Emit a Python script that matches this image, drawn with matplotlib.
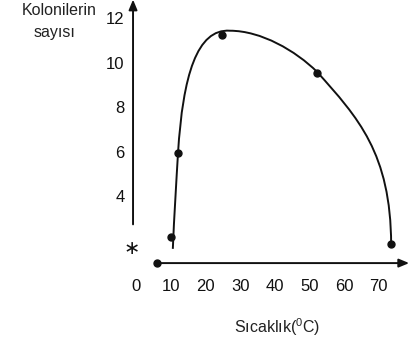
import numpy as np
import matplotlib
matplotlib.use('Agg')
import matplotlib.pyplot as plt
from matplotlib.path import Path
from matplotlib.patches import PathPatch

plt.rcParams['font.family'] = ['Liberation Sans', 'DejaVu Sans']
plt.rcParams['mathtext.fontset'] = 'custom'
plt.rcParams['mathtext.rm'] = 'Liberation Sans'

# measured points (temperature, colony count)
temp_pts = [10, 12, 24.7, 52.2, 73.6]
count_pts = [2.25, 6.0, 11.3, 9.6, 1.9]

curve_t = [10.5, 10.9, 11.5, 12.0, 13.4, 17.5, 27.0, 36.0, 46.0, 52.2, 64.0, 73.5, 73.6]
curve_n = [1.7, 3.2, 4.7, 6.0, 9.5, 11.6, 11.5, 11.5, 10.6, 9.65, 7.6, 6.0, 1.9]

xticks = [0, 10, 20, 30, 40, 50, 60, 70]
yticks = [4, 6, 8, 10, 12]

ink = '#111111'
fs = 12

fig = plt.figure(figsize=(4.09, 3.45), dpi=100)
ax = fig.add_axes([0, 0, 1, 1])
ax.set_xlim(-39.45, 78.76)
ax.set_ylim(-2.62, 12.88)
ax.axis('off')

# axes with arrows
arr = dict(arrowstyle='-|>,head_length=0.6,head_width=0.25',
           color=ink, lw=1.4, shrinkA=0, shrinkB=0)
ax.annotate('', xy=(-1.0, 12.9), xytext=(-1.0, 2.8), arrowprops=arr)
ax.annotate('', xy=(78.8, 1.06), xytext=(5.9, 1.06), arrowprops=arr)
ax.plot([5.9], [1.06], 'o', color=ink, ms=5)

verts = list(zip(curve_t, curve_n))
codes = [Path.MOVETO] + [Path.CURVE4] * (len(verts) - 1)
ax.add_patch(PathPatch(Path(verts, codes), fill=False, edgecolor=ink, lw=1.4))
ax.plot(temp_pts, count_pts, 'o', color=ink, ms=5)

for t in xticks:
    ax.text(t, 0.0, str(t), ha='center', va='center', fontsize=fs, color=ink)
for n in yticks:
    ax.text(-3.4, n, str(n), ha='right', va='center', fontsize=fs, color=ink)

ax.text(-1.3, 1.73, '\u2217', ha='center', va='center', fontsize=14,
        family='DejaVu Sans', color=ink)
ax.text(-22.4, 12.43, 'Kolonilerin', ha='center', va='center', fontsize=11.5, color='#222222')
ax.text(-23.8, 11.44, 'sayısı', ha='center', va='center', fontsize=11.5, color='#222222')
ax.text(40.6, -1.82, r'Sıcaklık($^{\mathrm{0}}$C)', ha='center', va='center',
        fontsize=11.5, color='#222222')

fig.savefig('out.png', dpi=100)
